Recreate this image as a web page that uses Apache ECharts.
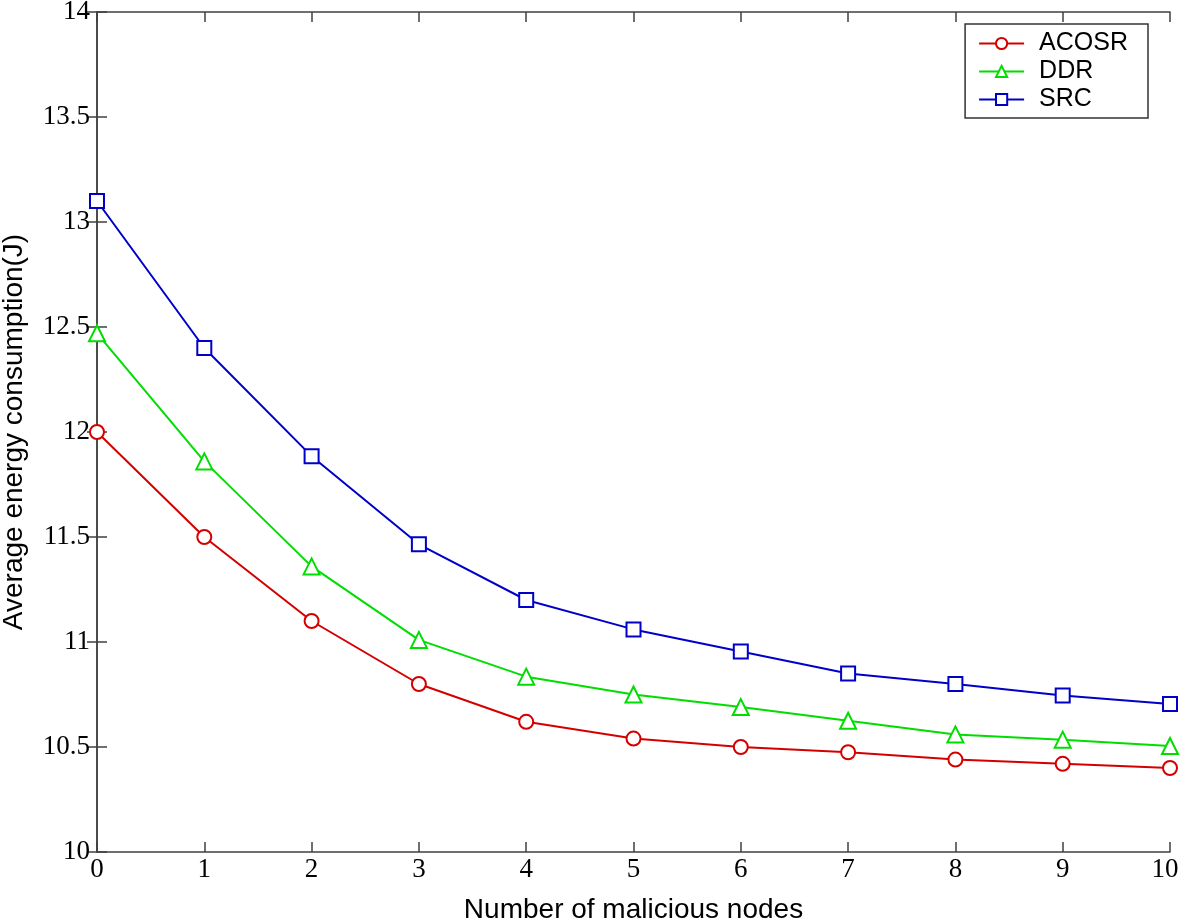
<!DOCTYPE html>
<html><head><meta charset="utf-8">
<script src="https://cdn.jsdelivr.net/npm/echarts@6/dist/echarts.min.js"></script>
<style>html,body{margin:0;padding:0;background:#fff}#c{width:1181px;height:922px}</style>
</head><body><div id="c"></div>
<script>
const xCategories = [0,1,2,3,4,5,6,7,8,9,10];
const acosr = [12.0, 11.5, 11.1, 10.8, 10.62, 10.54, 10.50, 10.475, 10.44, 10.42, 10.40];
const ddr   = [12.47, 11.86, 11.36, 11.01, 10.835, 10.75, 10.69, 10.625, 10.56, 10.535, 10.505];
const src   = [13.1, 12.4, 11.885, 11.465, 11.2, 11.06, 10.955, 10.85, 10.80, 10.745, 10.705];
const seriesNames = ['ACOSR','DDR','SRC'];
const colors = ['#d40000','#00dd00','#0000c8'];
const symbols = ['circle','triangle','rect'];
const yTicks = {min:10, max:14, interval:0.5};

const chart = echarts.init(document.getElementById('c'));
const mk = (name, data, i) => ({
  name, type:'line', data: xCategories.map((x,k)=>[x,data[k]]),
  symbol: symbols[i], symbolSize: i===1?16:14, showSymbol:true,
  lineStyle:{color:colors[i], width:2},
  itemStyle:{color:'#fff', borderColor:colors[i], borderWidth:2},
  z: 3+i
});
const serif = 'Liberation Serif, Times New Roman, serif';
const sans = 'Liberation Sans, Arial, sans-serif';
const axisLine = {show:true, lineStyle:{color:'#404040', width:1.5}};
const axisTick = {show:true, inside:true, length:10, lineStyle:{color:'#404040', width:1.5}};
const xMax = xCategories[xCategories.length-1];
chart.setOption({
  animation:false,
  backgroundColor:'#fff',
  grid:{left:97, right:11, top:12, bottom:70, show:false, containLabel:false, outerBoundsMode:'none'},
  legend:{
    data: seriesNames, orient:'vertical', right:33, top:24,
    itemWidth:45, itemHeight:14, itemGap:3,
    padding:[7,20,6,13],
    borderColor:'#333', borderWidth:1.5, backgroundColor:'#fff',
    textStyle:{fontFamily:sans, fontSize:25, color:'#000', padding:[0,0,0,10]}
  },
  xAxis:[{
    type:'value', min:0, max:xMax, interval:1,
    name:'Number of malicious nodes', nameLocation:'middle', nameGap:44,
    nameTextStyle:{fontFamily:sans, fontSize:28, color:'#000'},
    axisLine, axisTick,
    axisLabel:{fontFamily:serif, fontSize:27, color:'#000', margin:4,
      formatter: v => v===xMax ? '{m|'+v+'}' : String(v),
      rich:{m:{fontFamily:serif, fontSize:27, color:'#000', padding:[0,10,0,0]}}},
    splitLine:{show:false}
  },{
    type:'value', position:'top', min:0, max:xMax, interval:1,
    axisLine, axisTick,
    axisLabel:{show:false}, splitLine:{show:false}
  }],
  yAxis:[{
    type:'value', min:yTicks.min, max:yTicks.max, interval:yTicks.interval,
    name:'Average energy consumption(J)', nameLocation:'middle', nameGap:69,
    nameTextStyle:{fontFamily:sans, fontSize:28, color:'#000'},
    axisLine, axisTick,
    axisLabel:{fontFamily:serif, fontSize:27, color:'#000', margin:7},
    splitLine:{show:false}
  },{
    type:'value', position:'right', min:yTicks.min, max:yTicks.max, interval:yTicks.interval,
    axisLine, axisTick,
    axisLabel:{show:false}, splitLine:{show:false}
  }],
  series:[mk('ACOSR',acosr,0), mk('DDR',ddr,1), mk('SRC',src,2)]
});
</script></body></html>
